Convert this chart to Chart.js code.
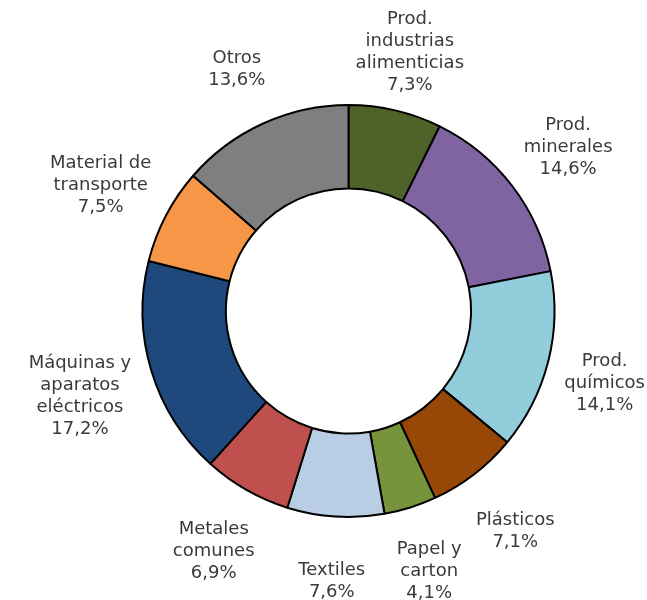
<!DOCTYPE html>
<html>
<head>
<meta charset="utf-8">
<script src="https://cdn.jsdelivr.net/npm/chart.js@4"></script>
<style>
  body { margin: 0; background: #fff; }
  #wrap { width: 647px; height: 600px; }
</style>
</head>
<body>
<div id="wrap"><canvas id="chart"></canvas></div>
<script>
const categories = [
  ["Prod.", "industrias", "alimenticias"],
  ["Prod.", "minerales"],
  ["Prod.", "químicos"],
  ["Plásticos"],
  ["Papel y", "carton"],
  ["Textiles"],
  ["Metales", "comunes"],
  ["Máquinas y", "aparatos", "eléctricos"],
  ["Material de", "transporte"],
  ["Otros"]
];
const shares = [7.3, 14.6, 14.1, 7.1, 4.1, 7.6, 6.9, 17.2, 7.5, 13.6];
const colors = ["#4F6228", "#8064A2", "#92CDDC", "#974806", "#77933C",
                "#B9CDE5", "#C0504D", "#1F497D", "#F79646", "#7F7F7F"];

// labels outside the ring, placed along each slice's middle angle
const outerLabels = {
  id: "outerLabels",
  afterDatasetsDraw(chart) {
    const ctx = chart.ctx;
    const meta = chart.getDatasetMeta(0);
    const lh = 22;
    ctx.save();
    ctx.font = "18px 'DejaVu Sans', Verdana, sans-serif";
    ctx.fillStyle = "#3a3a3a";
    ctx.textAlign = "center";
    ctx.textBaseline = "middle";
    meta.data.forEach((arc, i) => {
      const p = arc.getProps(["x", "y", "startAngle", "endAngle", "outerRadius"], true);
      const mid = (p.startAngle + p.endAngle) / 2;
      const lines = categories[i].concat([shares[i].toFixed(1).replace(".", ",") + "%"]);
      const halfW = Math.max(...lines.map(l => ctx.measureText(l).width)) / 2;
      const r = p.outerRadius + 60 + 0.3 * halfW * Math.abs(Math.cos(mid));
      let cx = p.x + r * Math.cos(mid);
      cx = Math.min(Math.max(cx, halfW + 2), chart.width - halfW - 2);
      const cy = p.y + r * Math.sin(mid) + 4;
      const top = cy - (lines.length * lh) / 2 + lh / 2;
      lines.forEach((l, k) => ctx.fillText(l, cx, top + k * lh));
    });
    ctx.restore();
  }
};

new Chart(document.getElementById("chart"), {
  type: "doughnut",
  data: {
    labels: categories,
    datasets: [{
      data: shares,
      backgroundColor: colors,
      borderColor: "#000",
      borderWidth: 2,
      radius: 206,
      cutout: 122,
      clip: false
    }]
  },
  options: {
    responsive: true,
    maintainAspectRatio: false,
    animation: false,
    layout: { padding: { top: 105, bottom: 83, left: 140, right: 90 } },
    plugins: {
      legend: { display: false },
      tooltip: { enabled: false }
    }
  },
  plugins: [outerLabels]
});
</script>
</body>
</html>
